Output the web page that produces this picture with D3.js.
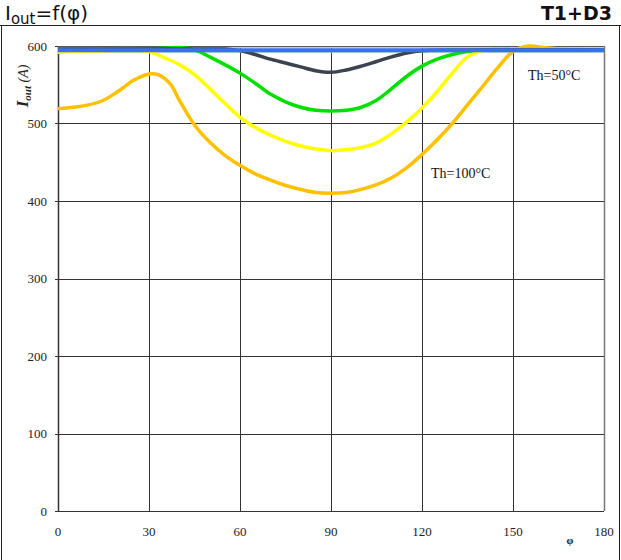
<!DOCTYPE html>
<html>
<head>
<meta charset="utf-8">
<script src="https://cdn.jsdelivr.net/npm/d3@7"></script>
<style>
  body { margin: 0; background: #fff; }
  svg { display: block; }
  .tick-label { font-family: "Liberation Serif", "Times New Roman", serif; font-size: 13px; fill: #222; }
  .note { font-family: "Liberation Serif", "Times New Roman", serif; font-size: 14px; fill: #111; }
  .head { font-family: "DejaVu Sans", Verdana, sans-serif; font-size: 20px; fill: #111; }
</style>
</head>
<body>
<svg id="chart" width="621" height="560"></svg>
<script>
// === Data ===
const xTicks = [0, 30, 60, 90, 120, 150, 180];
const yTicks = [0, 100, 200, 300, 400, 500, 600];

// Th=100°C (lowest curve)
const orangePhi = [0, 5, 10, 15, 20, 25, 30, 33, 37, 40, 45, 50, 55, 60, 65, 70, 75, 80, 85, 90, 95, 100, 105, 110, 115, 120, 125, 130, 135, 140, 145, 150, 155, 160, 165, 170, 180];
const orangeI   = [519, 521, 524, 530, 542, 556, 564, 563, 551, 530, 498, 476, 459, 446, 435, 427, 420, 415, 411, 410, 411, 415, 421, 430, 443, 460, 479, 500, 524, 548, 572, 593, 600, 598, 596, 595, 595];

const yellowPhi = [0, 25, 30, 35, 40, 45, 50, 55, 60, 65, 70, 75, 80, 85, 90, 95, 100, 105, 110, 115, 120, 125, 130, 135, 140, 145, 180];
const yellowI   = [592, 594, 593, 585, 576, 563, 545, 526, 508, 495, 485, 477, 471, 467, 465, 466, 469, 475, 487, 502, 520, 541, 565, 586, 594, 596, 595];

const greenPhi = [0, 30, 35, 40, 45, 50, 55, 60, 65, 70, 75, 80, 85, 90, 95, 100, 105, 110, 115, 120, 125, 130, 135, 140, 180];
const greenI   = [595, 596, 597, 598, 595, 586, 576, 565, 552, 538, 528, 521, 517, 516, 517, 521, 530, 545, 561, 574, 583, 589, 593, 595, 595];

// Th=50°C side
const grayPhi = [0, 30, 45, 55, 60, 65, 70, 75, 80, 85, 90, 95, 100, 105, 110, 115, 120, 130, 180];
const grayI   = [596, 596, 596, 596, 594, 589, 583, 578, 573, 568, 566, 569, 574, 580, 586, 591, 594, 595, 595];

const flatPhi  = [0, 180];
const lightTopI = [598, 598];
const cyanI     = [592.5, 592.5];
const blueI     = [594.5, 594.5];

const series = [
  { phi: flatPhi, I: lightTopI, color: '#c8c8c8', w: 1.5 },
  { phi: flatPhi, I: cyanI, color: '#9edcc8', w: 2 },
  { phi: orangePhi, I: orangeI, color: '#ffc000', w: 3.5 },
  { phi: yellowPhi, I: yellowI, color: '#ffff00', w: 3.5 },
  { phi: greenPhi, I: greenI, color: '#00e000', w: 3.5 },
  { phi: grayPhi, I: grayI, color: '#3b4350', w: 3.5 },
  { phi: flatPhi, I: blueI, color: '#3a6ff0', w: 4 }
];

// === Layout ===
const svg = d3.select('#chart');
const x = d3.scaleLinear().domain([0, 180]).range([58, 604]);
const y = d3.scaleLinear().domain([0, 600]).range([511, 46]);

// outer frame
svg.append('line').attr('x1', 0).attr('x2', 621).attr('y1', 25.5).attr('y2', 25.5)
  .attr('stroke', '#222').attr('stroke-width', 1.2);
svg.append('line').attr('x1', 1.5).attr('x2', 1.5).attr('y1', 25).attr('y2', 560)
  .attr('stroke', '#222');
svg.append('line').attr('x1', 619.5).attr('x2', 619.5).attr('y1', 25).attr('y2', 560)
  .attr('stroke', '#222');

// header
const head = svg.append('text').attr('class', 'head').attr('x', 5).attr('y', 20);
head.append('tspan').text('I');
head.append('tspan').attr('dy', 4).style('font-size', '15px').text('out');
head.append('tspan').attr('dy', -4).text('=f(φ)');
svg.append('text').attr('class', 'head').attr('x', 612).attr('y', 20)
  .attr('text-anchor', 'end').style('font-weight', 'bold').style('font-size', '19px').text('T1+D3');

// grid
const grid = svg.append('g');
grid.selectAll('.hg').data(yTicks).join('line')
  .attr('x1', x(0)).attr('x2', x(180))
  .attr('y1', d => Math.round(y(d)) + 0.5).attr('y2', d => Math.round(y(d)) + 0.5)
  .attr('stroke', '#333').attr('stroke-width', 1);
grid.selectAll('.vg').data(xTicks).join('line')
  .attr('x1', d => Math.round(x(d)) + 0.5).attr('x2', d => Math.round(x(d)) + 0.5)
  .attr('y1', y(600)).attr('y2', y(0))
  .attr('stroke', d => d === 180 ? '#777' : '#333')
  .attr('stroke-width', d => (d === 0 || d === 180) ? 1.5 : 1);

// left ticks
grid.selectAll('.yt').data(yTicks).join('line')
  .attr('x1', x(0) - 3).attr('x2', x(0))
  .attr('y1', d => Math.round(y(d)) + 0.5).attr('y2', d => Math.round(y(d)) + 0.5)
  .attr('stroke', '#333');

// tick labels
svg.selectAll('.ylab').data(yTicks).join('text')
  .attr('class', 'tick-label')
  .attr('x', 47).attr('y', d => y(d) + 4.5)
  .attr('text-anchor', 'end').text(d => d);
svg.selectAll('.xlab').data(xTicks).join('text')
  .attr('class', 'tick-label')
  .attr('x', d => x(d)).attr('y', 536)
  .attr('text-anchor', 'middle').text(d => d);

// axis titles
svg.append('text').attr('class', 'tick-label')
  .attr('x', 570).attr('y', 544).attr('text-anchor', 'middle')
  .style('font-weight', 'bold').style('font-size', '11px').text('φ');

const yt = svg.append('text').attr('class', 'tick-label')
  .attr('transform', 'translate(28,86) rotate(-90)')
  .attr('text-anchor', 'middle').style('font-style', 'italic').style('font-size', '14px');
yt.append('tspan').style('font-weight', 'bold').style('font-size', '17px').text('I');
yt.append('tspan').attr('dy', 3).style('font-size', '11px').style('font-weight', 'bold').text('out');
yt.append('tspan').attr('dy', -3).text(' (A)');

// curves
const line = d3.line().curve(d3.curveCatmullRom.alpha(0.5))
  .x(d => x(d[0])).y(d => y(d[1]));

svg.append('g').selectAll('path').data(series).join('path')
  .attr('d', s => line(s.phi.map((p, i) => [p, s.I[i]])))
  .attr('fill', 'none')
  .attr('stroke', s => s.color)
  .attr('stroke-width', s => s.w)
  .attr('stroke-linejoin', 'round');

// annotations
svg.append('text').attr('class', 'note').attr('x', 528).attr('y', 80).text('Th=50°C');
svg.append('text').attr('class', 'note').attr('x', 431).attr('y', 178).text('Th=100°C');
</script>
</body>
</html>
